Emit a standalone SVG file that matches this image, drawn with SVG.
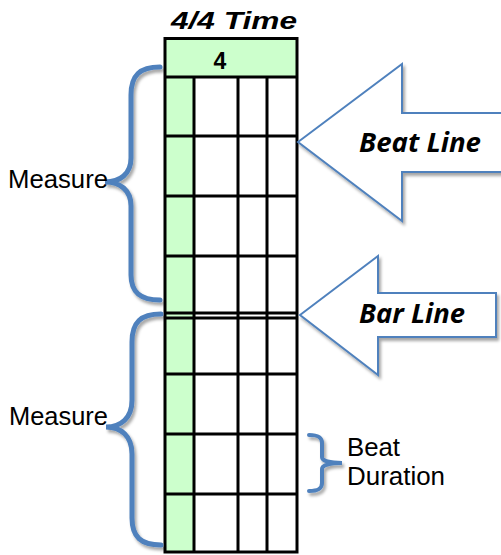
<svg xmlns="http://www.w3.org/2000/svg" width="501" height="555" viewBox="0 0 501 555">
<defs>
<filter id="sh" x="-20%" y="-20%" width="140%" height="140%">
<feDropShadow dx="2" dy="3" stdDeviation="1.5" flood-color="#000" flood-opacity="0.35"/>
</filter>
<style>
.grid{stroke:#000;stroke-width:3;fill:none}
.green{fill:#ccffcc}
.brace{fill:none;stroke:#4f81bd;stroke-width:5;stroke-linecap:round;filter:url(#sh)}
.arrow{fill:#fff;stroke:#4f81bd;stroke-width:2;filter:url(#sh)}
.lbl{font-family:"Liberation Sans",Arial,sans-serif;font-size:25px;fill:#000}
.call{font-family:"Open Sans","Liberation Sans",sans-serif;font-size:26px;font-weight:bold;font-style:italic;fill:#000}
.title{font-family:"Liberation Sans",Arial,sans-serif;font-weight:bold;font-style:italic;font-size:24px;fill:#000}
.num{font-family:"Liberation Sans",Arial,sans-serif;font-weight:bold;font-size:23px;fill:#000}
</style>
</defs>
<rect width="501" height="555" fill="#fff"/>
<text class="title" x="171" y="29" textLength="126" lengthAdjust="spacingAndGlyphs">4/4 Time</text>
<g id="grid">
<rect class="green" x="165" y="38.5" width="132" height="38.5"/>
<rect class="green" x="165" y="77" width="29" height="475"/>
<text class="num" x="220" y="69" text-anchor="middle">4</text>
<rect class="grid" x="165" y="38.5" width="132" height="513.5"/>
<path class="grid" d="M165 77H297M165 136H297M165 196H297M165 256H297M165 313H297M165 318H297M165 374H297M165 434H297M165 494H297M194 77V552M238 77V552M267 77V552"/>
</g>
<g id="connectors">
<path class="brace" d="M160 67C140 67 131 75 131 95V158C131 174 120 182 105 182C120 182 131 190 131 206V275C131 292 140 300 160 300"/>
<path class="brace" d="M161 314C141 314 132 322 132 342V400C132 418 121 427 106 427C121 427 132 436 132 454V518C132 537 141 545 161 545"/>
<path class="brace" d="M309 435C318 435 322 437 322 443V457C322 461 330 463 342 463C330 463 322 465 322 469V483C322 489 318 491 309 491" style="stroke-width:4"/>
</g>
<g id="beat-line">
<polygon class="arrow" points="298,142 402,64 402,113 506,113 506,172 402,172 402,221"/>
<text class="call" x="359" y="152" textLength="122" lengthAdjust="spacingAndGlyphs">Beat Line</text>
</g>
<g id="bar-line">
<polygon class="arrow" points="300,315 378,256 378,293 496,293 496,337 378,337 378,375"/>
<text class="call" x="359" y="323" textLength="106" lengthAdjust="spacingAndGlyphs">Bar Line</text>
</g>
<g id="measure-1">
<text class="lbl" x="8" y="188" textLength="100" lengthAdjust="spacingAndGlyphs">Measure</text>
</g>
<g id="measure-2">
<text class="lbl" x="9" y="425" textLength="99" lengthAdjust="spacingAndGlyphs">Measure</text>
</g>
<g id="beat-duration">
<text class="lbl" x="347" y="456" textLength="53" lengthAdjust="spacingAndGlyphs">Beat</text>
<text class="lbl" x="347" y="485" textLength="98" lengthAdjust="spacingAndGlyphs">Duration</text>
</g>
</svg>
